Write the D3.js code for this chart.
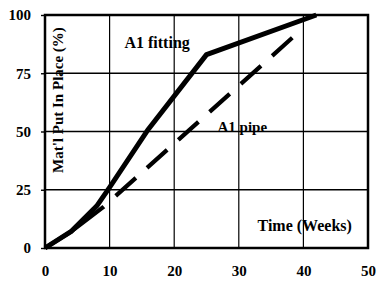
<!DOCTYPE html>
<html>
<head>
<meta charset="utf-8">
<script src="https://cdn.jsdelivr.net/npm/d3@7"></script>
<style>
  body { margin: 0; background: #fff; }
  text { font-family: "Liberation Serif", "Times New Roman", serif; font-weight: bold; fill: #000; }
</style>
</head>
<body>
<div id="chart"></div>
<script>
// data
const xTicks = [0, 10, 20, 30, 40, 50];
const yTicks = [0, 25, 50, 75, 100];
const fittingWeeks = [0, 4, 8, 10, 16, 25, 42];
const fittingPct   = [0, 7, 18, 26, 51, 83, 100];
const pipeWeeks = [0, 4, 9, 39];
const pipePct   = [0, 7, 17.5, 92];

const W = 378, H = 284;
const margin = {top: 15, right: 10, bottom: 36, left: 45};
const width = W - margin.left - margin.right,
  height = H - margin.top - margin.bottom;

const svg = d3.select("#chart").append("svg")
    .attr("width", W)
    .attr("height", H)
  .append("g")
    .attr("transform", "translate(" + margin.left + "," + margin.top + ")");

const x = d3.scaleLinear().domain([0, 50]).range([0, width]);
const y = d3.scaleLinear().domain([0, 100]).range([height, 0]);

// grid
svg.append("g")
  .selectAll("line")
  .data(xTicks.slice(1, -1))
  .enter().append("line")
    .attr("x1", d => x(d)).attr("x2", d => x(d))
    .attr("y1", 0).attr("y2", height)
    .attr("stroke", "#000").attr("stroke-width", 1.2);

svg.append("g")
  .selectAll("line")
  .data(yTicks.slice(1, -1))
  .enter().append("line")
    .attr("x1", 0).attr("x2", width)
    .attr("y1", d => y(d)).attr("y2", d => y(d))
    .attr("stroke", "#000").attr("stroke-width", 1.4);

// axes
const xAxis = svg.append("g")
  .attr("transform", "translate(0," + height + ")")
  .call(d3.axisBottom(x).tickValues(xTicks).tickSize(0).tickPadding(17));
xAxis.select(".domain").remove();
xAxis.selectAll("text").style("font-size", "15px").style("font-family", "Liberation Serif").style("font-weight", "bold");

const yAxis = svg.append("g")
  .call(d3.axisLeft(y).tickValues(yTicks).tickSize(4).tickPadding(10));
yAxis.select(".domain").remove();
yAxis.selectAll("line").attr("stroke-width", 1.4);
yAxis.selectAll("text").style("font-size", "15px").style("font-family", "Liberation Serif").style("font-weight", "bold");

// frame
svg.append("rect")
  .attr("x", 0).attr("y", 0)
  .attr("width", width).attr("height", height)
  .attr("fill", "none")
  .attr("stroke", "#000")
  .attr("stroke-width", 2.5);

// lines
const line = d3.line()
  .x(d => x(d[0]))
  .y(d => y(d[1]));

const fitting = d3.zip(fittingWeeks, fittingPct);
const pipe = d3.zip(pipeWeeks, pipePct);

let dashes = [72, 16];
for (let i = 0; i < 20; i++) dashes.push(27, 15);

svg.append("path")
  .datum(pipe)
  .attr("fill", "none")
  .attr("stroke", "#000")
  .attr("stroke-width", 4.2)
  .attr("stroke-dasharray", dashes.join(","))
  .attr("d", line);

svg.append("path")
  .datum(fitting)
  .attr("fill", "none")
  .attr("stroke", "#000")
  .attr("stroke-width", 5)
  .attr("stroke-linejoin", "round")
  .attr("d", line);

// labels
svg.append("text")
  .attr("x", x(12.3)).attr("y", y(86))
  .style("font-size", "16px")
  .text("A1 fitting");

svg.append("text")
  .attr("x", x(26.7)).attr("y", y(50))
  .style("font-size", "15px")
  .text("A1 pipe");

svg.append("text")
  .attr("x", x(32.9)).attr("y", y(7.2))
  .style("font-size", "16px")
  .text("Time (Weeks)");

svg.append("text")
  .attr("transform", "translate(" + (x(2.8)) + "," + y(63.5) + ") rotate(-90)")
  .attr("text-anchor", "middle")
  .style("font-size", "15px")
  .text("Mat'l Put In Place (%)");
</script>
</body>
</html>
